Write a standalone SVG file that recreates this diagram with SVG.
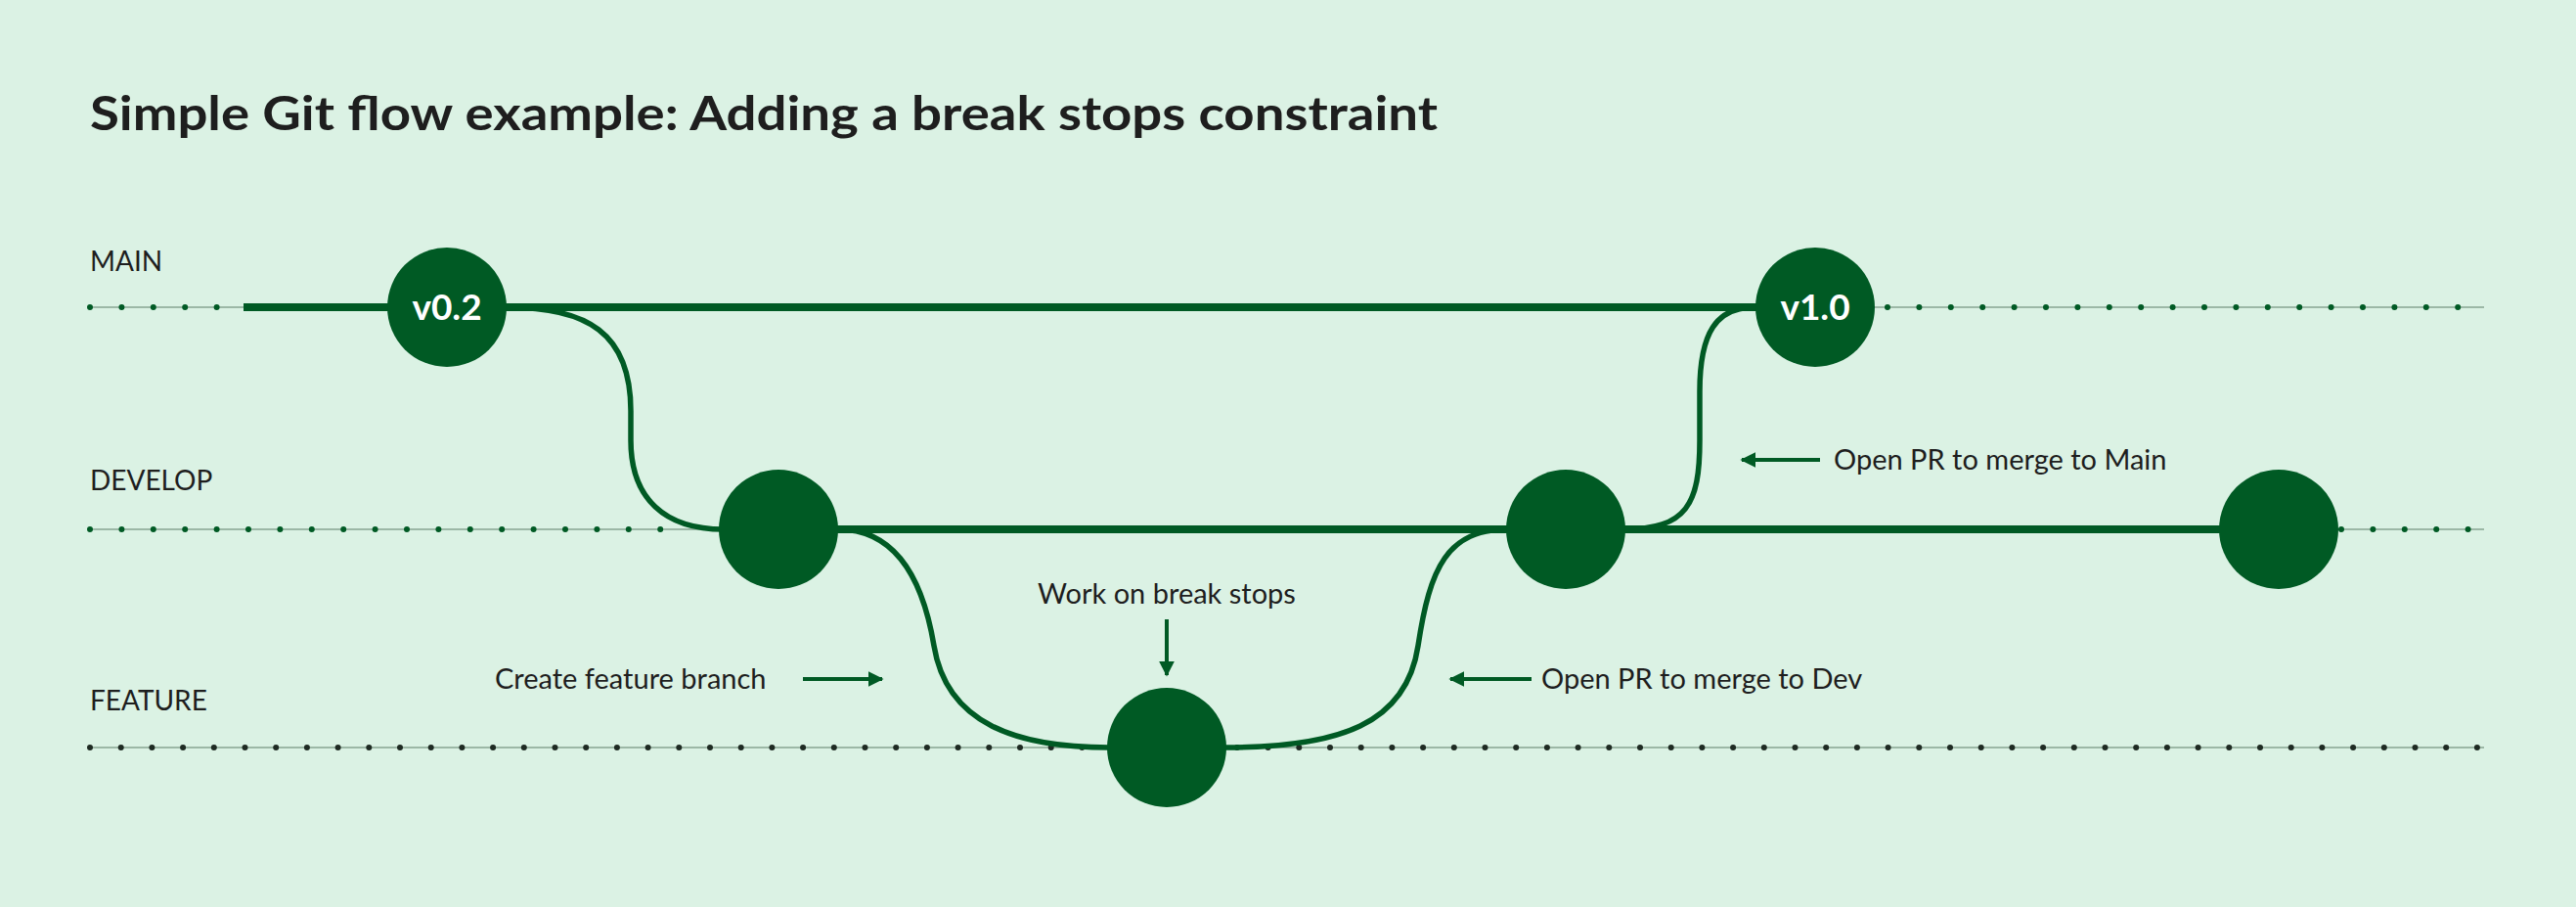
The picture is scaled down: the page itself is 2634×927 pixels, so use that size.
<svg xmlns="http://www.w3.org/2000/svg" width="2634" height="927" viewBox="0 0 2634 927">
<style>
.t{font-family:Lato,"Liberation Sans",sans-serif;fill:#1e1e1e}
.lbl{font-size:28px}
.ann{font-size:29px}
.thin{stroke:#9cb8a6;stroke-width:2}
.dg{stroke:#005a24;stroke-width:6;stroke-linecap:round;stroke-dasharray:0 32.4}
.dk{stroke:#1e2a22;stroke-width:6;stroke-linecap:round;stroke-dasharray:0 31.7}
.solid{stroke:#005a24;stroke-width:8;fill:none}
.curve{stroke:#005a24;stroke-width:5.5;fill:none}
.node{fill:#005a24}
.nt{font-family:Lato,"Liberation Sans",sans-serif;font-weight:bold;font-size:37px;fill:#fff;text-anchor:middle}
.arr{stroke:#005a24;stroke-width:4;fill:none}
</style>
<defs><marker id="ah" viewBox="0 0 10 10" refX="9" refY="5" markerWidth="4" markerHeight="4" orient="auto" markerUnits="strokeWidth"><path d="M0,0L10,5L0,10z" fill="#005a24"/></marker></defs>
<rect width="2634" height="927" fill="#dbf2e4"/>
<text class="t" x="92" y="133" font-size="47" font-weight="bold" textLength="1378" lengthAdjust="spacingAndGlyphs">Simple Git flow example: Adding a break stops constraint</text>
<text class="t lbl" x="92" y="277">MAIN</text>
<text class="t lbl" x="92" y="501">DEVELOP</text>
<text class="t lbl" x="92" y="726">FEATURE</text>
<g id="connectors">
<line class="thin" x1="92" y1="314" x2="249" y2="314"/><line class="dg" x1="92" y1="314" x2="230" y2="314"/>
<line class="thin" x1="1900" y1="314" x2="2540" y2="314"/><line class="dg" x1="1930" y1="314" x2="2540" y2="314"/>
<line class="thin" x1="92" y1="541" x2="735" y2="541"/><line class="dg" x1="92" y1="541" x2="700" y2="541"/>
<line class="thin" x1="2360" y1="541" x2="2540" y2="541"/><line class="dg" x1="2394" y1="541" x2="2540" y2="541"/>
<line class="thin" x1="92" y1="764" x2="2540" y2="764"/><line class="dk" x1="92" y1="764" x2="2540" y2="764"/>
<line class="solid" x1="249" y1="314" x2="1856" y2="314"/>
<line class="solid" x1="796" y1="541" x2="2330" y2="541"/>
<path class="curve" d="M518,314 C600,314 645,340 645,420 L645,450 C645,510 680,541 740,541"/>
<path class="curve" d="M857,541 C920,541 945,600 955,660 C968,740 1040,764 1134,764"/>
<path class="curve" d="M1252,764 C1370,764 1438,740 1450,660 C1462,580 1480,541 1542,541"/>
<path class="curve" d="M1660,541 C1725,541 1738,515 1738,450 L1738,400 C1738,340 1755,314 1794,314"/>
<line class="arr" x1="821" y1="694" x2="902" y2="694" marker-end="url(#ah)"/>
<line class="arr" x1="1193" y1="633" x2="1193" y2="690" marker-end="url(#ah)"/>
<line class="arr" x1="1566" y1="694" x2="1483" y2="694" marker-end="url(#ah)"/>
<line class="arr" x1="1861" y1="470" x2="1781" y2="470" marker-end="url(#ah)"/>
</g>
<g id="n-v02"><circle class="node" cx="457" cy="314" r="61"/><text class="nt" x="457" y="327">v0.2</text></g>
<g id="n-v10"><circle class="node" cx="1856" cy="314" r="61"/><text class="nt" x="1856" y="327">v1.0</text></g>
<g id="n-dev1"><circle class="node" cx="796" cy="541" r="61"/></g>
<g id="n-dev2"><circle class="node" cx="1601" cy="541" r="61"/></g>
<g id="n-dev3"><circle class="node" cx="2330" cy="541" r="61"/></g>
<g id="n-feat"><circle class="node" cx="1193" cy="764" r="61"/></g>
<text class="t ann" x="506" y="704">Create feature branch</text>
<text class="t ann" x="1193" y="617" text-anchor="middle">Work on break stops</text>
<text class="t ann" x="1576" y="704">Open PR to merge to Dev</text>
<text class="t ann" x="1875" y="480">Open PR to merge to Main</text>
</svg>
